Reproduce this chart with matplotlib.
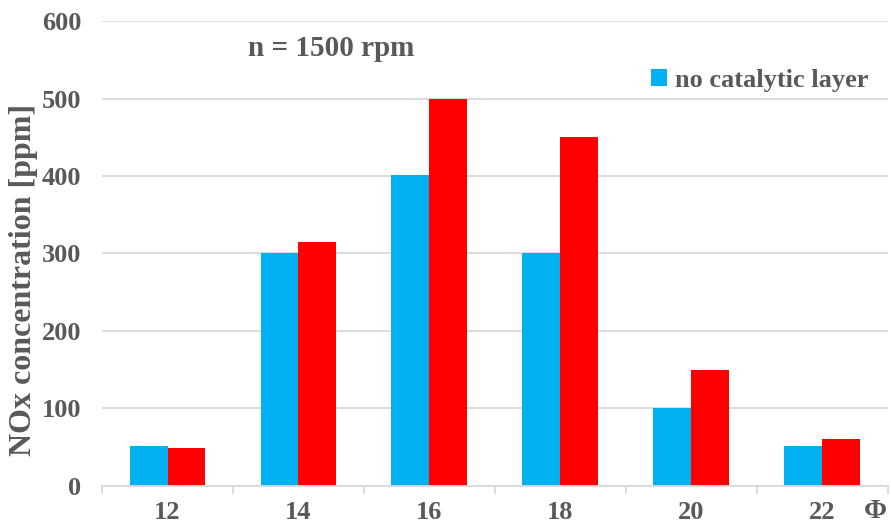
import matplotlib.pyplot as plt
import numpy as np

phi = ["12", "14", "16", "18", "20", "22"]
no_layer = [51, 301, 401, 301, 101, 51]
with_layer = [49, 315, 500, 450, 150, 60]

plt.rcParams['font.family'] = ['Liberation Serif', 'DejaVu Serif']
plt.rcParams['font.weight'] = 'bold'
txt = '#595959'

fig = plt.figure(figsize=(8.91, 5.27), dpi=100)
ax = fig.add_axes([0.1145, 0.078, 0.882, 0.882])

x = np.arange(len(phi))
w = 0.29
ax.bar(x - w/2, no_layer, w, color='#00B0F0', label='no catalytic layer', zorder=2)
ax.bar(x + w/2, with_layer, w, color='#FF0000', zorder=2)

ax.set_xlim(-0.5, len(phi) - 0.5)
ax.set_ylim(0, 600)
ax.set_yticks(range(0, 601, 100))
ax.yaxis.grid(True, color='#D9D9D9', linewidth=1.3, zorder=0)
ax.set_axisbelow(True)

ax.set_xticks(x)
ax.set_xticklabels(phi)
ax.set_xticks(np.arange(-0.5, len(phi)), minor=True)
ax.tick_params(axis='x', which='major', length=0, pad=11, labelsize=19, colors=txt)
ax.tick_params(axis='x', which='minor', length=6, color='#D9D9D9', width=1.3)
ax.tick_params(axis='y', length=0, pad=15, labelsize=19, colors=txt)
for lab in ax.get_xticklabels() + ax.get_yticklabels():
    lab.set_fontweight('bold')

for s in ['top', 'right', 'left']:
    ax.spines[s].set_visible(False)
ax.spines['bottom'].set_color('#D9D9D9')
ax.spines['bottom'].set_linewidth(1.3)
ax.spines['bottom'].set_zorder(3)

ax.set_ylabel('NOx concentration [ppm]', fontsize=23, fontweight='bold', color=txt)
ax.yaxis.set_label_coords(-0.082, 0.443)
ax.text(0.970, 0.005, 'Φ', transform=fig.transFigure, fontsize=20, fontweight='bold', color=txt,
        ha='left', va='bottom')
ax.text(0.186, 0.942, 'n = 1500 rpm', transform=ax.transAxes, fontsize=21, fontweight='bold', color=txt,
        ha='left', va='center')

leg = ax.legend(loc='center right', bbox_to_anchor=(0.975, 0.873), frameon=False, fontsize=19,
                handlelength=0.6, handleheight=0.6, handletextpad=0.3, labelcolor=txt,
                borderaxespad=0, borderpad=0)
for t in leg.get_texts():
    t.set_fontweight('bold')

fig.savefig('out.png', dpi=100)
